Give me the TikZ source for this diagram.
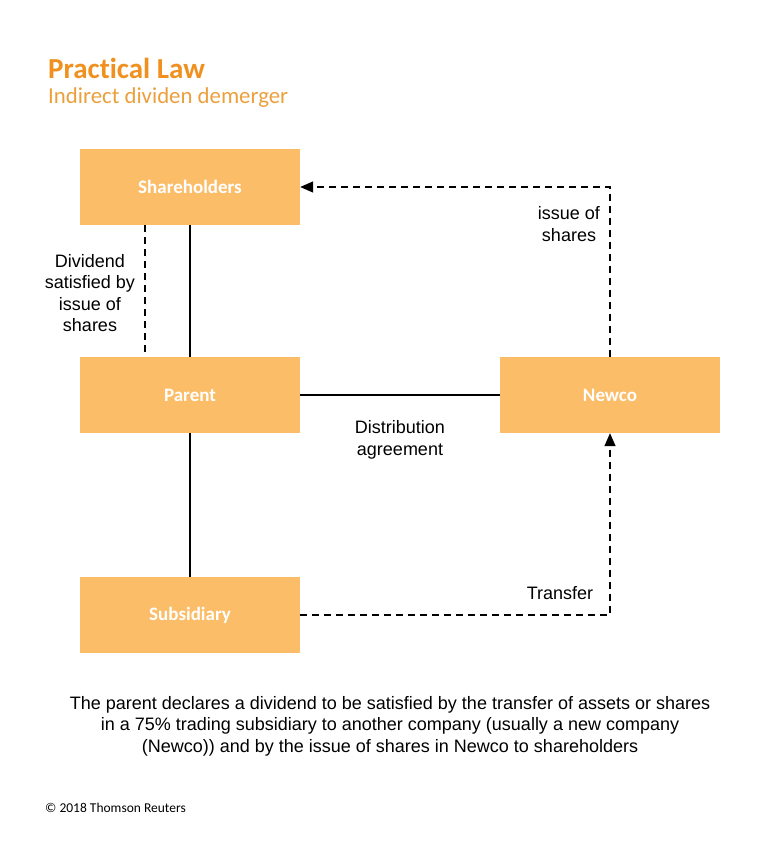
\documentclass[tikz,border=0pt]{standalone}
\usepackage{fontspec}
\setmainfont{Liberation Sans}
\newfontfamily\carlito[Ligatures={NoCommon, NoRare}]{Carlito}
\usepackage{xcolor}
\usetikzlibrary{positioning, arrows.meta}

\definecolor{boxfill}{RGB}{251,189,104}
\definecolor{titleorange}{RGB}{240,144,30}
\definecolor{suborange}{RGB}{236,160,60}

\tikzset{
    entity/.style={rectangle, fill=boxfill, minimum width=220pt, minimum height=76pt,
        inner sep=0pt, text=white, font=\carlito\bfseries\fontsize{19}{22}\selectfont},
    lbl/.style={align=center, font=\fontsize{18}{21.5}\selectfont, inner sep=0pt},
    link/.style={line width=1.4pt},
    dlink/.style={line width=1.4pt, dash pattern=on 7pt off 5pt},
    tip/.style={-{Triangle[length=13pt, width=11pt]}}
}

\begin{document}
\begin{tikzpicture}[x=1pt, y=-1pt]
        \useasboundingbox (0, 0) rectangle (760, 864);
        \fill[white] (0, 0) rectangle (760, 864);

        \node[anchor=base west, text=titleorange, font=\carlito\bfseries\fontsize{29}{33}\selectfont, inner sep=0pt] (title) at (48, 79) {Practical Law};
        \node[anchor=base west, text=suborange, font=\carlito\fontsize{22.8}{26}\selectfont, inner sep=0pt] (subtitle) at (48, 103) {Indirect dividen demerger};

        \node[entity] (share) at (190, 187) {Shareholders};
        \node[entity] (parent) at (190, 395) {Parent};
        \node[entity] (newco) at (610, 395) {Newco};
        \node[entity] (sub) at (190, 615) {Subsidiary};

        \coordinate (topright) at (610, 187);
        \coordinate (botright) at (610, 615);

        \draw[link] (share.south) -- (parent.north)
            (parent.south) -- (sub.north)
            (parent.east) -- (newco.west);
        \draw[dlink] ([xshift=-45pt]share.south) -- ([xshift=-45pt]parent.north);
        \draw[dlink, tip] (newco.north) -- (topright) -- (share.east);
        \draw[dlink, tip] (sub.east) -- (botright) -- (newco.south);

        \node[lbl] (divlbl) at (90, 293) {Dividend\\satisfied by\\issue of\\shares};
        \node[lbl] (isslbl) at (569, 224) {issue of\\shares};
        \node[lbl] (distlbl) at (400, 440) {Distribution\\agreement};
        \node[lbl] (translbl) at (560, 593) {Transfer};

        \node[lbl] (caption) at (390, 726) {The parent declares a dividend to be satisfied by the transfer of assets or shares\\in a 75\% trading subsidiary to another company (usually a new company\\(Newco)) and by the issue of shares in Newco to shareholders};

        \node[anchor=base west, font=\carlito\fontsize{13.5}{16}\selectfont, inner sep=0pt] (copy) at (45, 812) {\textcopyright{} 2018 Thomson Reuters};
    \end{tikzpicture}
\end{document}
